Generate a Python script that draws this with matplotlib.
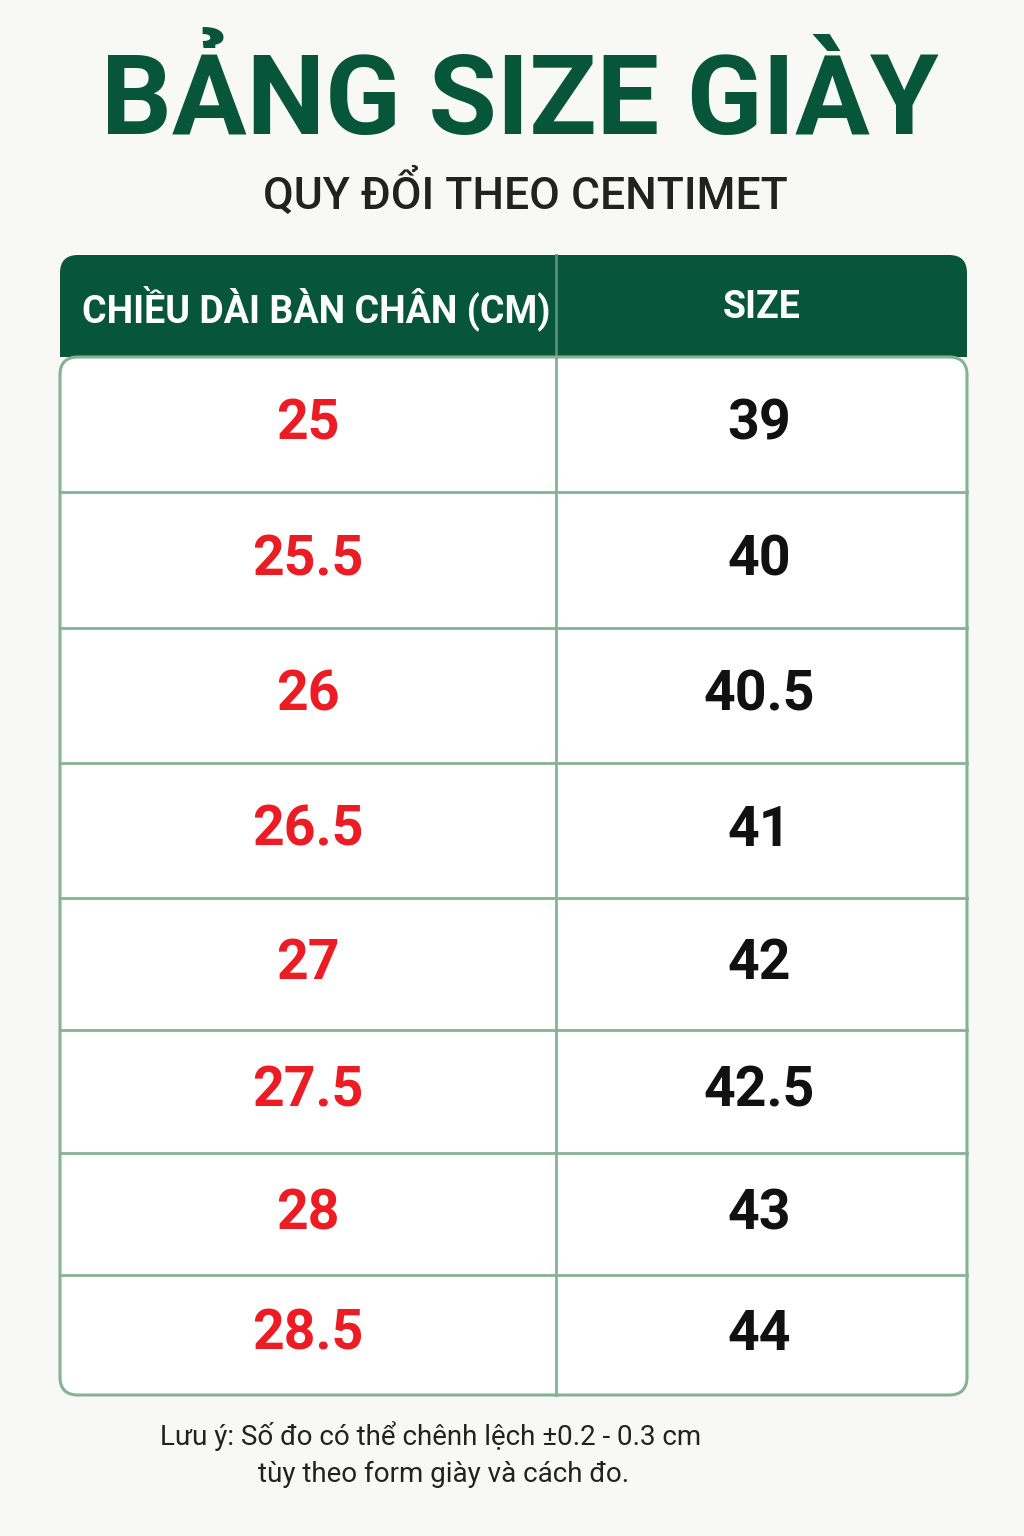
import matplotlib
matplotlib.use("Agg")
import matplotlib.pyplot as plt
from matplotlib.patches import FancyBboxPatch, Rectangle

title = "BẢNG SIZE GIÀY"
subtitle = "QUY ĐỔI THEO CENTIMET"
headers = ["CHIỀU DÀI BÀN CHÂN (CM)", "SIZE"]
foot_cm = ["25", "25.5", "26", "26.5", "27", "27.5", "28", "28.5"]
sizes = ["39", "40", "40.5", "41", "42", "42.5", "43", "44"]
note1 = "Lưu ý: Số đo có thể chênh lệch ±0.2 - 0.3 cm"
note2 = "tùy theo form giày và cách đo."

GREEN = "#07553a"
RED = "#ec1c24"
LINE = "#86b294"
BG = "#f8f8f6"

fig = plt.figure(figsize=(10.24, 15.36), dpi=100, facecolor=BG)
ax = fig.add_axes([0, 0, 1, 1])
ax.set_xlim(0, 1024); ax.set_ylim(1536, 0); ax.axis("off")
ax.set_facecolor(BG)

x0, x1, xm = 60, 967, 556
ytop, yhead = 255, 357
bounds = [357, 492, 628, 763, 898, 1030, 1153, 1275, 1395]
r = 18

ax.add_patch(FancyBboxPatch((x0, ytop), x1 - x0, bounds[-1] - ytop,
             boxstyle=f"round,pad=0,rounding_size={r}", fc=GREEN, ec="none", zorder=1))
ax.add_patch(Rectangle((x0, yhead), x1 - x0, bounds[-1] - yhead - 40, fc="white", ec="none", zorder=2))
ax.add_patch(FancyBboxPatch((x0, bounds[-1] - 60), x1 - x0, 60,
             boxstyle=f"round,pad=0,rounding_size={r}", fc="white", ec="none", zorder=2))
for y in bounds[1:-1]:
    ax.plot([x0, x1], [y, y], color=LINE, lw=2, zorder=3)
ax.plot([xm, xm], [yhead, bounds[-1]], color=LINE, lw=2, zorder=3)
ax.plot([xm, xm], [ytop, yhead], color="#5d8f73", lw=2, zorder=3)
ax.add_patch(FancyBboxPatch((x0, yhead), x1 - x0, bounds[-1] - yhead,
             boxstyle=f"round,pad=0,rounding_size={r}", fc="none", ec=LINE, lw=2.2, zorder=4))
ax.add_patch(Rectangle((x0, ytop), x1 - x0, yhead - ytop + 1, fc="none", ec="none"))

ax.text(520, 103, title, ha="center", va="center", fontsize=80, fontweight="bold",
        color=GREEN, family="Roboto", fontstretch="condensed")
ax.text(525, 193, subtitle, ha="center", va="center", fontsize=32, color="#222222",
        family="Roboto", fontweight="medium")

hcx = [(x0 + xm) / 2 + 8, (xm + x1) / 2]
for cx, h in zip(hcx, headers):
    ax.text(cx, 308, h, ha="center", va="center", fontsize=27, color="white",
            fontweight="bold", family="Roboto")

for i, (a, b) in enumerate(zip(foot_cm, sizes)):
    cy = (bounds[i] + bounds[i + 1]) / 2
    ax.text(308, cy, a, ha="center", va="center", fontsize=40, color=RED,
            fontweight="bold", family="Roboto", zorder=5)
    ax.text(759, cy, b, ha="center", va="center", fontsize=40, color="#111111",
            fontweight="bold", family="Roboto", zorder=5)

ax.text(160, 1436, note1, ha="left", va="center", fontsize=20, color="#222222", family="Roboto")
ax.text(444, 1474, note2, ha="center", va="center", fontsize=20, color="#222222", family="Roboto")

fig.savefig("out.png", dpi=100, facecolor=BG)
